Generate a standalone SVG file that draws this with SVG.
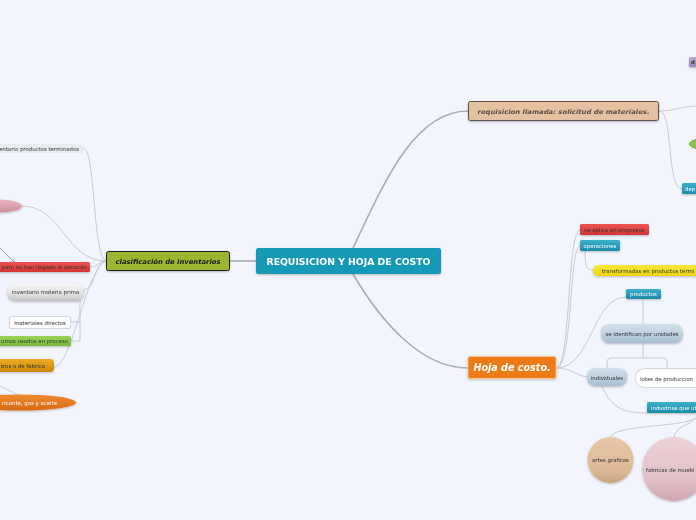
<svg xmlns="http://www.w3.org/2000/svg" width="696" height="520" viewBox="0 0 696 520">
<defs>
<style>
.t{font-family:"DejaVu Sans","Liberation Sans",sans-serif;font-size:5.4px;fill:#333}
.tw{font-family:"DejaVu Sans","Liberation Sans",sans-serif;font-size:5.4px;fill:#fff}
.c{fill:none;stroke:#c9cbd0;stroke-width:1}
.cm{fill:none;stroke:#adadad;stroke-width:1.6}
</style>
<linearGradient id="gGrey" x1="0" y1="0" x2="0" y2="1"><stop offset="0" stop-color="#f7f7f7"/><stop offset="0.6" stop-color="#e2e2e2"/><stop offset="1" stop-color="#c2c2c2"/></linearGradient>
<linearGradient id="gBlue" x1="0" y1="0" x2="0" y2="1"><stop offset="0" stop-color="#d3e2ec"/><stop offset="1" stop-color="#a9c0d0"/></linearGradient>
<linearGradient id="gTeal" x1="0" y1="0" x2="0" y2="1"><stop offset="0" stop-color="#3bb1cc"/><stop offset="1" stop-color="#1c8aa8"/></linearGradient>
<linearGradient id="gPink" x1="0" y1="0" x2="0" y2="1"><stop offset="0" stop-color="#ecd3d8"/><stop offset="0.7" stop-color="#e0bec6"/><stop offset="1" stop-color="#cfa6b0"/></linearGradient>
<linearGradient id="gTan" x1="0" y1="0" x2="0" y2="1"><stop offset="0" stop-color="#e9c8a8"/><stop offset="0.75" stop-color="#dcb895"/><stop offset="1" stop-color="#c9a27e"/></linearGradient>
<linearGradient id="gPinkE" x1="0" y1="0" x2="0" y2="1"><stop offset="0" stop-color="#e9b5c0"/><stop offset="1" stop-color="#cf8f9d"/></linearGradient>
<linearGradient id="gOrE" x1="0" y1="0" x2="0" y2="1"><stop offset="0" stop-color="#f08a30"/><stop offset="1" stop-color="#d86a12"/></linearGradient>
<linearGradient id="gGold" x1="0" y1="0" x2="0" y2="1"><stop offset="0" stop-color="#eeaa22"/><stop offset="1" stop-color="#c98a0c"/></linearGradient>
<linearGradient id="gRed" x1="0" y1="0" x2="0" y2="1"><stop offset="0" stop-color="#ec5454"/><stop offset="1" stop-color="#d23434"/></linearGradient>
<linearGradient id="gGreen" x1="0" y1="0" x2="0" y2="1"><stop offset="0" stop-color="#9bd356"/><stop offset="1" stop-color="#7ab83a"/></linearGradient>
<linearGradient id="gYel" x1="0" y1="0" x2="0" y2="1"><stop offset="0" stop-color="#f8e83a"/><stop offset="1" stop-color="#eed40c"/></linearGradient>
<linearGradient id="gPurp" x1="0" y1="0" x2="0" y2="1"><stop offset="0" stop-color="#b7a6d2"/><stop offset="1" stop-color="#9a88bb"/></linearGradient>
<filter id="sh" x="-10%" y="-20%" width="120%" height="160%"><feDropShadow dx="0" dy="1" stdDeviation="0.8" flood-color="#000" flood-opacity="0.25"/></filter>
<marker id="ar" viewBox="0 0 10 10" refX="9" refY="5" markerWidth="6" markerHeight="6" orient="auto"><path d="M1,1 L9,5 L1,9" fill="none" stroke="#9a9a9a" stroke-width="1.3"/></marker>
</defs>
<rect width="696" height="520" fill="#f2f5fd"/>
<g id="connectors">
<path class="cm" d="M256,261 L230,261"/>
<path class="cm" d="M353,248 C385,180 415,111 468,111"/>
<path class="cm" d="M353,274 C380,320 420,368 468,368"/>
<path class="c" d="M83,148 C96,148 92,255 106,261"/>
<path class="c" d="M22,206 C62,206 66,261 106,261"/>
<path class="c" d="M90,267 C98,267 99,261 106,261"/>
<path class="c" d="M83,290 C96,290 94,262 106,261"/>
<path class="c" d="M80,299 L80,341 L71,341 M80,322 L71,322"/>
<path class="c" d="M54,367 C72,367 86,268 106,261"/>
<path class="c" d="M0,386 L26,399"/>
<path fill="none" stroke="#9a9a9a" stroke-width="0.9" d="M0,248 L15,263" marker-end="url(#ar)"/>
<path class="c" d="M659,111 C672,111 680,107 696,106"/>
<path class="c" d="M659,111 C674,111 666,189 682,189"/>
<path class="c" d="M556,368 C571,368 567,230 580,230"/>
<path class="c" d="M556,368 C573,368 569,246 580,246"/>
<path class="c" d="M585,251 C585,266 586,270 594,270"/>
<path class="c" d="M556,368 C592,368 592,297 626,297"/>
<path class="c" d="M556,368 C572,368 576,376 588,377"/>
<path class="c" d="M643,299 L643,324 M643,343 L643,358 M607,368 L607,362 Q607,358 611,358 L663,358 Q667,358 667,362 L667,368"/>
<path class="c" d="M602,386 C612,410 626,413 648,413"/>
<path class="c" d="M696,418 C680,428 617,424 610,437"/>
<path class="c" d="M696,418 C688,426 676,426 674,437"/>
</g>
<g id="center" filter="url(#sh)">
<rect x="256" y="248" width="185" height="26" rx="2.5" fill="#1599b7"/>
<text x="348.5" y="264.8" text-anchor="middle" font-family="DejaVu Sans, Liberation Sans, sans-serif" font-weight="bold" font-size="8.8" fill="#fff" textLength="164" lengthAdjust="spacingAndGlyphs">REQUISICION Y HOJA DE COSTO</text>
</g>
<g id="clasificacion" filter="url(#sh)">
<rect x="106.5" y="251.5" width="123" height="19" rx="2" fill="#9cb62e" stroke="#1e1e1e" stroke-width="1"/>
<text x="168" y="263.5" text-anchor="middle" font-family="DejaVu Sans, Liberation Sans, sans-serif" font-weight="bold" font-style="italic" font-size="6.8" fill="#1a1a1a" textLength="105" lengthAdjust="spacingAndGlyphs">clasificación de inventarios</text>
</g>
<g id="requisicion" filter="url(#sh)">
<rect x="468.5" y="101.5" width="190" height="19" rx="2" fill="#e4c1a0" stroke="#5e5248" stroke-width="1"/>
<text x="563.5" y="113.5" text-anchor="middle" font-family="DejaVu Sans, Liberation Sans, sans-serif" font-weight="bold" font-style="italic" font-size="6.4" fill="#5a4e44" textLength="172" lengthAdjust="spacingAndGlyphs">requisicion llamada: solicitud de materiales.</text>
</g>
<g id="hoja" filter="url(#sh)">
<rect x="468" y="356.5" width="88" height="22" rx="2" fill="#ec7a12" stroke="#f7c9a0" stroke-width="0.8"/>
<text x="512" y="371" text-anchor="middle" font-family="DejaVu Sans, Liberation Sans, sans-serif" font-weight="bold" font-style="italic" font-size="9.6" fill="#fff">Hoja de costo.</text>
</g>
<g id="prod-terminados">
<rect x="-4" y="144" width="87" height="9" rx="1.5" fill="#e9ecef"/>
<text class="t" x="79" y="150.5" text-anchor="end" font-size="5">entario productos terminados</text>
</g>
<g id="pink-ellipse" filter="url(#sh)">
<ellipse cx="-2" cy="206" rx="24" ry="6.5" fill="url(#gPinkE)"/>
</g>
<g id="no-almacen" filter="url(#sh)">
<rect x="-4" y="262" width="94" height="10" rx="1.5" fill="url(#gRed)"/>
<text class="t" x="87" y="269" text-anchor="end" font-size="5" fill="#2a1a1a">pero no han llegado al almacén</text>
</g>
<g id="materia-prima" filter="url(#sh)">
<rect x="7" y="283" width="77" height="18" rx="8" fill="url(#gGrey)"/>
<text class="t" x="45.5" y="294" text-anchor="middle">inventario materia prima</text>
</g>
<g id="materiales-directos">
<rect x="9.5" y="316.5" width="61" height="12" rx="1.5" fill="#fff" stroke="#c8ccd2" stroke-width="0.8"/>
<text class="t" x="40" y="324.5" text-anchor="middle">materiales directos</text>
</g>
<g id="insumos" filter="url(#sh)">
<rect x="-4" y="336" width="75" height="10" rx="1.5" fill="url(#gGreen)"/>
<text class="t" x="68" y="343" text-anchor="end">umos usados en proceso</text>
</g>
<g id="fabrica" filter="url(#sh)">
<rect x="-6" y="359" width="60" height="13" rx="4" fill="url(#gGold)"/>
<text class="t" x="45" y="367.5" text-anchor="end" fill="#2a2010">tros o de fabrica</text>
</g>
<g id="lubricante" filter="url(#sh)">
<ellipse cx="20" cy="402.5" rx="56" ry="8" fill="url(#gOrE)"/>
<text class="tw" x="57" y="404.5" text-anchor="end">ricante, gas y aceite</text>
</g>
<g id="purple" filter="url(#sh)">
<rect x="689" y="57" width="12" height="10" rx="1.5" fill="url(#gPurp)"/>
<text class="t" x="691" y="64" fill="#2a2040" font-weight="bold">d</text>
</g>
<g id="green-leaf">
<path d="M689,144 Q692,139 700,139 L700,149 Q692,149 689,144 Z" fill="#8bc34a" stroke="#5f8f2a" stroke-width="0.6"/>
</g>
<g id="dep" filter="url(#sh)">
<rect x="682" y="183" width="20" height="11" rx="1.5" fill="url(#gTeal)"/>
<text class="tw" x="685" y="190.5">dep</text>
</g>
<g id="se-aplica" filter="url(#sh)">
<rect x="580" y="224" width="69" height="11" rx="1.5" fill="url(#gRed)"/>
<text class="t" x="614.5" y="231.5" text-anchor="middle" fill="#2a1a1a">se aplica en empresas</text>
</g>
<g id="operaciones" filter="url(#sh)">
<rect x="580" y="240" width="40" height="11" rx="1.5" fill="url(#gTeal)"/>
<text class="tw" x="600" y="247.5" text-anchor="middle">operaciones</text>
</g>
<g id="transformadas" filter="url(#sh)">
<rect x="593" y="265" width="110" height="11" rx="5.5" fill="url(#gYel)"/>
<text class="t" x="602" y="272.5" fill="#2a2a10">transformadas en productos termi</text>
</g>
<g id="productos" filter="url(#sh)">
<rect x="626" y="289" width="35" height="10" rx="1.5" fill="url(#gTeal)"/>
<text class="tw" x="643.5" y="296" text-anchor="middle">productos</text>
</g>
<g id="se-identifican" filter="url(#sh)">
<rect x="601" y="324" width="82" height="19" rx="8" fill="url(#gBlue)"/>
<text class="t" x="642" y="335.5" text-anchor="middle">se identifican por unidades</text>
</g>
<g id="individuales" filter="url(#sh)">
<rect x="587" y="368" width="40" height="18" rx="8" fill="url(#gBlue)"/>
<text class="t" x="607" y="379.5" text-anchor="middle">individuales</text>
</g>
<g id="lotes">
<rect x="635.5" y="368.5" width="70" height="19" rx="9" fill="#fff" stroke="#c8ccd2" stroke-width="0.8"/>
<text class="t" x="640" y="380.5">lotes de produccion</text>
</g>
<g id="industrias" filter="url(#sh)">
<rect x="647" y="402" width="56" height="11" rx="1.5" fill="url(#gTeal)"/>
<text class="tw" x="651" y="409.5">industrias que ut</text>
</g>
<g id="artes" filter="url(#sh)">
<circle cx="610.5" cy="460" r="23" fill="url(#gTan)"/>
<text class="t" x="610.5" y="462" text-anchor="middle" fill="#5a4a3a">artes graficas</text>
</g>
<g id="fabricas" filter="url(#sh)">
<circle cx="674" cy="469" r="32" fill="url(#gPink)"/>
<text class="t" x="646" y="471.5" fill="#4a2a30">fabricas de muebl</text>
</g>
</svg>
